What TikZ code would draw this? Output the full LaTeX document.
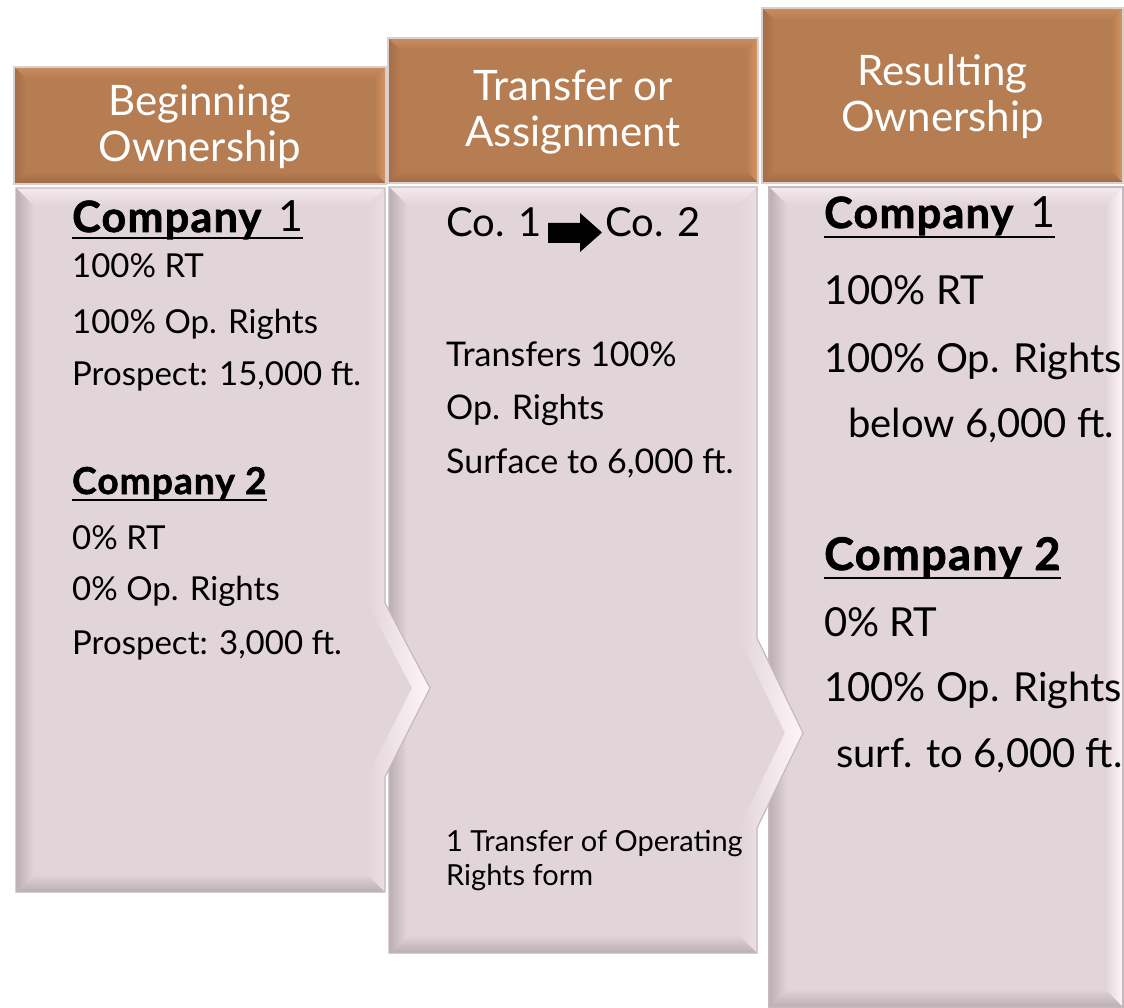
\documentclass[tikz,border=0pt]{standalone}
\usepackage{fontspec}
\setmainfont{Lato}
\newfontfamily\heavy{Lato}[BoldFeatures={FakeBold=1.6, LetterSpace=3}]
\definecolor{hbase}{HTML}{B67C52}
\definecolor{hlight}{HTML}{D6955F}
\definecolor{htop}{HTML}{C98D5E}
\definecolor{hdark}{HTML}{9E6A46}
\definecolor{hedge}{HTML}{D9CFCF}
\definecolor{bbase}{HTML}{E2D5DA}
\definecolor{bdark}{HTML}{BAADB3}
\definecolor{btop}{HTML}{F4E9EE}
\definecolor{blight}{HTML}{FFF6FA}
\definecolor{bedge}{HTML}{C4B9BD}
\newcommand\HeaderBox[4]{% L T R B
  \fill[hbase] (#1,#2) rectangle (#3,#4);
  \shade[top color=htop, bottom color=hbase] (#1,#2) -- (#3,#2) -- (#3-12,#2+12) -- (#1+12,#2+12) -- cycle;
  \shade[left color=hdark!80!hbase, right color=hbase] (#1,#2) -- (#1+12,#2+12) -- (#1+12,#4-12) -- (#1,#4) -- cycle;
  \shade[left color=hbase, right color=hlight] (#3,#2) -- (#3-12,#2+12) -- (#3-12,#4-12) -- (#3,#4) -- cycle;
  \shade[top color=hbase, bottom color=hdark] (#1,#4) -- (#1+12,#4-12) -- (#3-12,#4-12) -- (#3,#4) -- cycle;
  \draw[hedge, line width=1.2] (#1,#2) rectangle (#3,#4);
}
\newcommand\BodyBox[8]{% L T R B c1 tipx tipy c2
  \fill[bbase] (#1,#2) -- (#3,#2) -- (#3,#5) -- (#6,#7) -- (#3,#8) -- (#3,#4) -- (#1,#4) -- cycle;
  \shade[top color=btop, bottom color=bbase] (#1,#2) -- (#3,#2) -- (#3-18,#2+18) -- (#1+18,#2+18) -- cycle;
  \shade[left color=bdark, right color=bbase] (#1,#2) -- (#1+18,#2+18) -- (#1+18,#4-18) -- (#1,#4) -- cycle;
  \shade[top color=bbase, bottom color=bdark] (#1,#4) -- (#1+18,#4-18) -- (#3-18,#4-18) -- (#3,#4) -- cycle;
  \shade[left color=bbase, right color=blight] (#3,#2) -- (#3,#5) -- (#6,#7) -- (#3,#8) -- (#3,#4) -- (#3-18,#4-18) -- (#3-18,#8) -- (#6-18,#7) -- (#3-18,#5) -- (#3-18,#2+18) -- cycle;
  \draw[bedge, line width=1.2] (#1,#2) -- (#3,#2) -- (#3,#5) -- (#6,#7) -- (#3,#8) -- (#3,#4) -- (#1,#4) -- cycle;
}
\begin{document}
\begin{tikzpicture}[x=1pt,y=-1pt,
  hdrtext/.style={text=white, align=center, inner sep=0, font=\fontsize{42}{46}\selectfont},
  smalltxt/.style={anchor=base west, inner sep=0, text=black, font=\fontsize{29}{34}\selectfont},
  midtxt/.style={anchor=base west, inner sep=0, text=black, font=\fontsize{33}{40}\selectfont},
  col2txt/.style={anchor=base west, inner sep=0, text=black, font=\fontsize{34}{40}\selectfont},
  bigtxt/.style={anchor=base west, inner sep=0, text=black, font=\fontsize{40}{46}\selectfont},
  uline/.style={line width=2.5, black}]
\useasboundingbox (0,0) rectangle (1124,1008);
\fill[white] (0,0) rectangle (1124,1008);

% ---------- column 3 ----------
\BodyBox{769}{187}{1123}{1007}{600}{1123}{600}{600}
\HeaderBox{762}{8}{1123}{183}
\node[hdrtext] (h3) at (942.5,97) {Resulting\\Ownership};

% ---------- column 2 ----------
\BodyBox{389}{187}{757}{953}{638}{803}{733}{828}
\HeaderBox{388}{38}{758}{183}
\node[hdrtext] (h2) at (573,112) {Transfer or\\Assignment};

% ---------- column 1 ----------
\BodyBox{16}{188}{385}{892}{603}{430}{688}{777}
\HeaderBox{14}{67}{386}{184}
\node[hdrtext] (h1) at (200,127) {Beginning\\Ownership};

% ---------- column 1 text ----------
\node[bigtxt, font=\fontsize{43}{46}\selectfont] (a1c) at (72,232) {{\heavy\bfseries Company}\hspace{6pt} 1};
\draw[uline] ([yshift=-6pt]a1c.base west) -- ([yshift=-6pt]a1c.base east);
\node[midtxt] (a1r) at (72,278) {100\% RT};
\node[midtxt] (a1o) at (72,333) {100\% Op. Rights};
\node[midtxt] (a1p) at (72,385) {Prospect: 15,000 ft.};
\node[midtxt, font=\fontsize{37}{40}\selectfont\heavy\bfseries] (a2c) at (72,494) {Company 2};
\draw[uline] ([yshift=-6pt]a2c.base west) -- ([yshift=-6pt]a2c.base east);
\node[midtxt] (a2r) at (72,549) {0\% RT};
\node[midtxt] (a2o) at (72,600) {0\% Op. Rights};
\node[midtxt] (a2p) at (72,654) {Prospect: 3,000 ft.};

% ---------- column 2 text ----------
\node[bigtxt] (co1) at (446,237) {Co. 1};
\fill[black] (548,223) -- (580,223) -- (580,213) -- (602,232.5) -- (580,252) -- (580,243) -- (548,243) -- cycle;
\node[bigtxt] (co2) at (605,237) {Co. 2};
\node[col2txt] (t1) at (446,366) {Transfers 100\%};
\node[col2txt] (t2) at (446,419) {Op. Rights};
\node[col2txt] (t3) at (446,473) {Surface to 6,000 ft.};
\node[smalltxt] (f1) at (446,851) {1 Transfer of Operating};
\node[smalltxt] (f2) at (446,885) {Rights form};

% ---------- column 3 text ----------
\node[bigtxt, font=\fontsize{43}{46}\selectfont] (r1c) at (824,228) {{\heavy\bfseries Company}\hspace{6pt} 1};
\draw[uline] ([yshift=-9pt]r1c.base west) -- ([yshift=-9pt]r1c.base east);
\node[bigtxt] (r1r) at (824,305) {100\% RT};
\node[bigtxt] (r1o) at (824,372) {100\% Op. Rights};
\node[bigtxt] (r1b) at (848,437) {below 6,000 ft.};
\node[bigtxt, font=\fontsize{45}{46}\selectfont\heavy\bfseries] (r2c) at (824,570) {Company 2};
\draw[uline] ([yshift=-8pt]r2c.base west) -- ([yshift=-8pt]r2c.base east);
\node[bigtxt] (r2r) at (824,636) {0\% RT};
\node[bigtxt] (r2o) at (824,701) {100\% Op. Rights};
\node[bigtxt] (r2s) at (836,767) {surf. to 6,000 ft.};
\end{tikzpicture}
\end{document}
